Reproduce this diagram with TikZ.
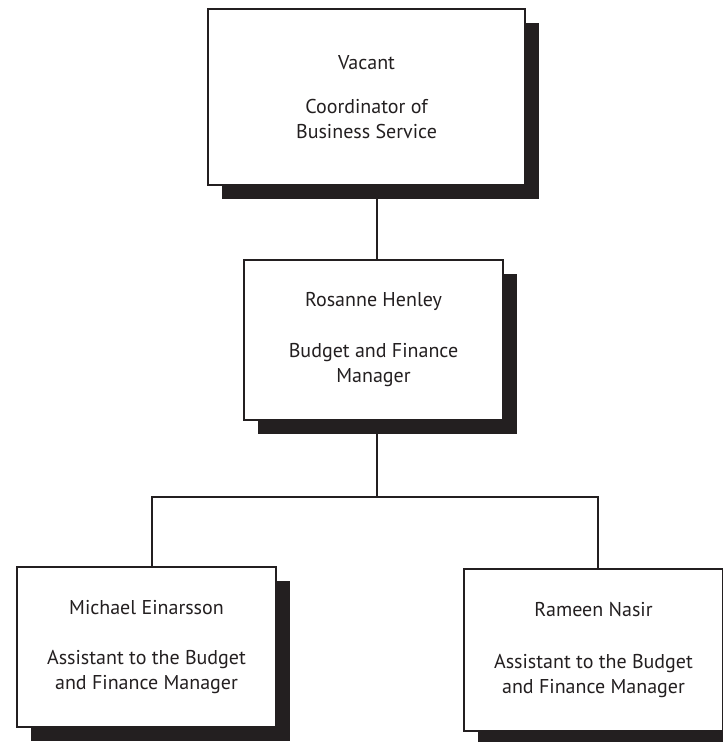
\documentclass[tikz,border=0pt]{standalone}
\usepackage{fontspec}
\setmainfont{PT Sans}
\usetikzlibrary{shadows,backgrounds}
\definecolor{ink}{HTML}{231F20}
\begin{document}
\begin{tikzpicture}[x=1pt,y=1pt,
  orgbox/.style={rectangle, draw=ink, line width=2pt, fill=white, align=center,
    inner sep=0pt, text=ink, font=\fontsize{20}{25}\selectfont,
    drop shadow={shadow xshift=14pt, shadow yshift=-14pt, opacity=1, fill=ink}},
  link/.style={draw=ink, line width=2pt}]
\useasboundingbox (0,0) rectangle (723,-742);
\node[orgbox, minimum width=317pt, minimum height=176pt] (top) at (366.5,-97)
  {Vacant\\[19pt]Coordinator of\\Business Service};
\node[orgbox, minimum width=259pt, minimum height=160pt] (mid) at (373.5,-340)
  {Rosanne Henley\\[26pt]Budget and Finance\\Manager};
\node[orgbox, minimum width=259pt, minimum height=160pt] (left) at (146.5,-647)
  {Michael Einarsson\\[25pt]Assistant to the Budget\\and Finance Manager};
\node[orgbox, minimum width=259pt, minimum height=162pt] (right) at (593.5,-650)
  {Rameen Nasir\\[27pt]Assistant to the Budget\\and Finance Manager};
\coordinate (j) at (377,-497);
\coordinate (jl) at (152,-497);
\coordinate (jr) at (598,-497);
\begin{scope}[on background layer]
  \draw[link] (top.south -| j) -- (mid.north -| j);
  \draw[link] (mid.south -| j) -- (j);
  \draw[link] (left.north -| jl) -- (jl) -- (jr) -- (right.north -| jr);
\end{scope}
\end{tikzpicture}
\end{document}
